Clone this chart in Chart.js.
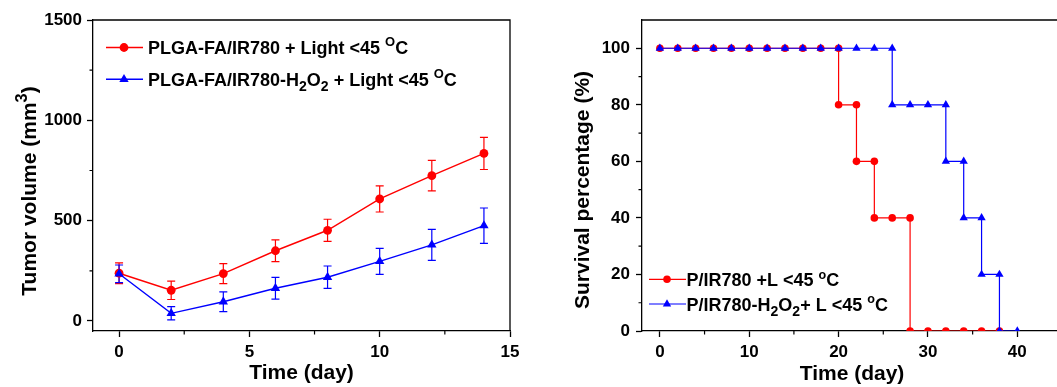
<!DOCTYPE html>
<html>
<head>
<meta charset="utf-8">
<title>Tumor volume and survival</title>
<script src="https://cdn.jsdelivr.net/npm/chart.js@4.4.1/dist/chart.umd.min.js"></script>
<style>
    html, body { margin: 0; padding: 0; background: #fff; overflow: hidden; }
    #volume-chart { position: absolute; left: 0; top: 0; }
    #survival-chart { position: absolute; left: 530px; top: 0; }
</style>
</head>
<body>
<canvas id="volume-chart" width="530" height="387"></canvas>
<canvas id="survival-chart" width="560" height="387"></canvas>
<script>
// tumor volume (left panel)
const volumeDays = [0, 2, 4, 6, 8, 10, 12, 14];
const volumeRed = [238, 153, 236, 350, 452, 608, 724, 835];
const volumeRedErr = [52, 46, 50, 54, 55, 65, 76, 80];
const volumeBlue = [235, 38, 96, 163, 218, 297, 379, 475];
const volumeBlueErr = [44, 33, 49, 54, 56, 65, 77, 88];
const volumeXTicks = [0, 5, 10, 15];
const volumeXMinor = [2.5, 7.5, 12.5];
const volumeYTicks = [0, 500, 1000, 1500];
const volumeYMinor = [250, 750, 1250];

// survival (right panel), steps repeat the day at each drop
const survivalRedDays = [0, 2, 4, 6, 8, 10, 12, 14, 16, 18, 20, 20, 22, 22, 24, 24, 26, 28, 28, 30, 32, 34, 36, 38];
const survivalRed = [100, 100, 100, 100, 100, 100, 100, 100, 100, 100, 100, 80, 80, 60, 60, 40, 40, 40, 0, 0, 0, 0, 0, 0];
const survivalBlueDays = [0, 2, 4, 6, 8, 10, 12, 14, 16, 18, 20, 22, 24, 26, 26, 28, 30, 32, 32, 34, 34, 36, 36, 38, 38, 40];
const survivalBlue = [100, 100, 100, 100, 100, 100, 100, 100, 100, 100, 100, 100, 100, 100, 80, 80, 80, 80, 60, 60, 40, 40, 20, 20, 0, 0];
const survivalXTicks = [0, 10, 20, 30, 40];
const survivalXMinor = [5, 15, 25, 35, 45];
const survivalYTicks = [0, 20, 40, 60, 80, 100];
const survivalYMinor = [10, 30, 50, 70, 90];

const FONT = '"Liberation Sans", Arial, Helvetica, sans-serif';
const RED = "#ff0000";
const BLUE = "#0000ff";

function segFont(seg, size) {
    let s = size;
    if (seg.sup || seg.sub) s = size * (seg.scale || 0.72);
    return "bold " + s + "px " + FONT;
}

// draws text made of normal / superscript / subscript pieces, y is the baseline
function drawRich(ctx, segs, x, y, size, align) {
    let total = 0;
    segs.forEach(function (seg) {
        ctx.font = segFont(seg, size);
        total += ctx.measureText(seg.t).width;
    });
    let cx = align === "center" ? x - total / 2 : x;
    ctx.textAlign = "left";
    ctx.textBaseline = "alphabetic";
    segs.forEach(function (seg) {
        ctx.font = segFont(seg, size);
        let dy = 0;
        if (seg.sup) dy = -size * (seg.rise || 0.42);
        if (seg.sub) dy = size * 0.28;
        ctx.fillText(seg.t, cx, y + dy);
        cx += ctx.measureText(seg.t).width;
    });
}

const extras = {
    id: "extras",
    beforeDatasetsDraw(chart, args, opts) {
        const ctx = chart.ctx;
        const xs = chart.scales.x;
        const ys = chart.scales.y;
        (opts.errorBars || []).forEach(function (eb) {
            ctx.save();
            ctx.strokeStyle = eb.color;
            ctx.lineWidth = 1.2;
            eb.x.forEach(function (d, i) {
                const px = xs.getPixelForValue(d);
                const top = ys.getPixelForValue(eb.y[i] + eb.err[i]);
                const bot = ys.getPixelForValue(eb.y[i] - eb.err[i]);
                ctx.beginPath();
                ctx.moveTo(px, top);
                ctx.lineTo(px, bot);
                ctx.moveTo(px - 4, top);
                ctx.lineTo(px + 4, top);
                ctx.moveTo(px - 4, bot);
                ctx.lineTo(px + 4, bot);
                ctx.stroke();
            });
            ctx.restore();
        });
    },
    afterDraw(chart, args, opts) {
        const ctx = chart.ctx;
        const a = chart.chartArea;
        const xs = chart.scales.x;
        const ys = chart.scales.y;
        ctx.save();

        // top and right frame
        ctx.strokeStyle = "#000";
        ctx.lineWidth = 1.3;
        ctx.beginPath();
        ctx.moveTo(a.left, a.top);
        ctx.lineTo(a.right, a.top);
        ctx.lineTo(a.right, a.bottom);
        ctx.stroke();

        // minor ticks
        ctx.lineWidth = 1.2;
        ctx.beginPath();
        (opts.xMinor || []).forEach(function (v) {
            const px = xs.getPixelForValue(v);
            ctx.moveTo(px, a.bottom);
            ctx.lineTo(px, a.bottom + 3.5);
        });
        (opts.yMinor || []).forEach(function (v) {
            const py = ys.getPixelForValue(v);
            ctx.moveTo(a.left - 3.5, py);
            ctx.lineTo(a.left, py);
        });
        ctx.stroke();

        // rotated y title
        if (opts.yTitle) {
            ctx.save();
            ctx.fillStyle = "#000";
            ctx.translate(opts.yTitle.x, opts.yTitle.y);
            ctx.rotate(-Math.PI / 2);
            drawRich(ctx, opts.yTitle.segs, 0, 0, 21, "center");
            ctx.restore();
        }

        // legend
        (opts.legend || []).forEach(function (item) {
            ctx.strokeStyle = item.color;
            ctx.fillStyle = item.color;
            ctx.lineWidth = item.lineWidth;
            ctx.beginPath();
            ctx.moveTo(item.x1, item.y);
            ctx.lineTo(item.x2, item.y);
            ctx.stroke();
            Chart.helpers.drawPoint(ctx, {
                pointStyle: item.pointStyle,
                radius: item.radius,
                rotation: 0,
                borderWidth: 0
            }, item.mx, item.y);
            ctx.fillStyle = "#000";
            drawRich(ctx, item.segs, item.tx, item.y + 6.5, 18, "left");
        });

        ctx.restore();
    }
};

function tickOptions(padding) {
    return {
        font: { family: FONT, size: 17, weight: "bold" },
        color: "#000",
        padding: padding,
        callback: function (value) { return String(value); }
    };
}

function toPoints(xs, ys) {
    return xs.map(function (x, i) {
        return { x: x, y: ys[i] };
    });
}

function makeAxis(min, max, ticks, extra) {
    const axis = {
        type: "linear",
        min: min,
        max: max,
        afterBuildTicks: function (scale) {
            scale.ticks = ticks.map(function (v) { return { value: v }; });
        },
        ticks: tickOptions(5),
        grid: { drawOnChartArea: false, drawTicks: true, tickLength: 6, tickWidth: 1.3, tickColor: "#000" },
        border: { display: true, color: "#000", width: 1.3 }
    };
    return Object.assign(axis, extra);
}

Chart.defaults.font.family = FONT;

new Chart(document.getElementById("volume-chart"), {
    type: "scatter",
    data: {
        datasets: [
            {
                label: "PLGA-FA/IR780 + Light",
                data: toPoints(volumeDays, volumeRed),
                showLine: true,
                borderColor: RED,
                backgroundColor: RED,
                borderWidth: 1.4,
                pointStyle: "circle",
                pointRadius: 4.4,
                pointBorderWidth: 0,
                order: 2
            },
            {
                label: "PLGA-FA/IR780-H2O2 + Light",
                data: toPoints(volumeDays, volumeBlue),
                showLine: true,
                borderColor: BLUE,
                backgroundColor: BLUE,
                borderWidth: 1.4,
                pointStyle: "triangle",
                pointRadius: 5.4,
                pointBorderWidth: 0,
                order: 1
            }
        ]
    },
    options: {
        responsive: false,
        animation: false,
        layout: { padding: { left: 0, right: 20, top: 20, bottom: 0 } },
        plugins: {
            legend: { display: false },
            tooltip: { enabled: false },
            extras: {
                errorBars: [
                    { x: volumeDays, y: volumeRed, err: volumeRedErr, color: RED },
                    { x: volumeDays, y: volumeBlue, err: volumeBlueErr, color: BLUE }
                ],
                xMinor: volumeXMinor,
                yMinor: volumeYMinor,
                yTitle: {
                    x: 36, y: 191,
                    segs: [{ t: "Tumor volume (mm" }, { t: "3", sup: true, scale: 0.78, rise: 0.45 }, { t: ")" }]
                },
                legend: [
                    {
                        color: RED, lineWidth: 1.4, pointStyle: "circle", radius: 4.4,
                        x1: 106, x2: 143, mx: 124, y: 47.5, tx: 148,
                        segs: [{ t: "PLGA-FA/IR780 + Light <45 " }, { t: "O", sup: true }, { t: "C" }]
                    },
                    {
                        color: BLUE, lineWidth: 1.4, pointStyle: "triangle", radius: 5.4,
                        x1: 106, x2: 143, mx: 124, y: 79.3, tx: 148,
                        segs: [{ t: "PLGA-FA/IR780-H" }, { t: "2", sub: true, scale: 0.78 }, { t: "O" },
                            { t: "2", sub: true, scale: 0.78 }, { t: " + Light <45 " }, { t: "O", sup: true }, { t: "C" }]
                    }
                ]
            }
        },
        scales: {
            x: makeAxis(-1, 15, volumeXTicks, {
                afterFit: function (scale) { scale.height = 56; },
                title: {
                    display: true, text: "Time (day)", color: "#000",
                    font: { family: FONT, size: 21, weight: "bold" },
                    padding: { top: 0, bottom: 1 }
                }
            }),
            y: makeAxis(-50, 1500, volumeYTicks, {
                afterFit: function (scale) { scale.width = 93; }
            })
        }
    },
    plugins: [extras]
});

new Chart(document.getElementById("survival-chart"), {
    type: "scatter",
    data: {
        datasets: [
            {
                label: "P/IR780 +L",
                data: toPoints(survivalRedDays, survivalRed),
                showLine: true,
                borderColor: RED,
                backgroundColor: RED,
                borderWidth: 1.2,
                pointStyle: "circle",
                pointRadius: 3.8,
                pointBorderWidth: 0,
                order: 2
            },
            {
                label: "P/IR780-H2O2+ L",
                data: toPoints(survivalBlueDays, survivalBlue),
                showLine: true,
                borderColor: BLUE,
                backgroundColor: BLUE,
                borderWidth: 1.2,
                pointStyle: "triangle",
                pointRadius: 4.8,
                pointBorderWidth: 0,
                order: 1
            }
        ]
    },
    options: {
        responsive: false,
        animation: false,
        layout: { padding: { left: 0, right: 28, top: 20, bottom: 0 } },
        plugins: {
            legend: { display: false },
            tooltip: { enabled: false },
            extras: {
                xMinor: survivalXMinor,
                yMinor: survivalYMinor,
                yTitle: {
                    x: 59, y: 190,
                    segs: [{ t: "Survival percentage (%)" }]
                },
                legend: [
                    {
                        color: RED, lineWidth: 1.2, pointStyle: "circle", radius: 3.8,
                        x1: 119, x2: 156, mx: 137, y: 279.3, tx: 156.5,
                        segs: [{ t: "P/IR780 +L <45 " }, { t: "o", sup: true, scale: 0.7, rise: 0.4 }, { t: "C" }]
                    },
                    {
                        color: BLUE, lineWidth: 1.2, pointStyle: "triangle", radius: 4.8,
                        x1: 119, x2: 156, mx: 137, y: 304, tx: 156.5,
                        segs: [{ t: "P/IR780-H" }, { t: "2", sub: true, scale: 0.78 }, { t: "O" },
                            { t: "2", sub: true, scale: 0.78 }, { t: "+ L <45 " }, { t: "o", sup: true, scale: 0.7, rise: 0.4 }, { t: "C" }]
                    }
                ]
            }
        },
        scales: {
            x: makeAxis(-2, 45, survivalXTicks, {
                afterFit: function (scale) { scale.height = 56; },
                title: {
                    display: true, text: "Time (day)", color: "#000",
                    font: { family: FONT, size: 21, weight: "bold" },
                    padding: { top: 0, bottom: 0 }
                }
            }),
            y: makeAxis(0, 110, survivalYTicks, {
                afterFit: function (scale) { scale.width = 112; },
                ticks: tickOptions(6)
            })
        }
    },
    plugins: [extras]
});
</script>
</body>
</html>
